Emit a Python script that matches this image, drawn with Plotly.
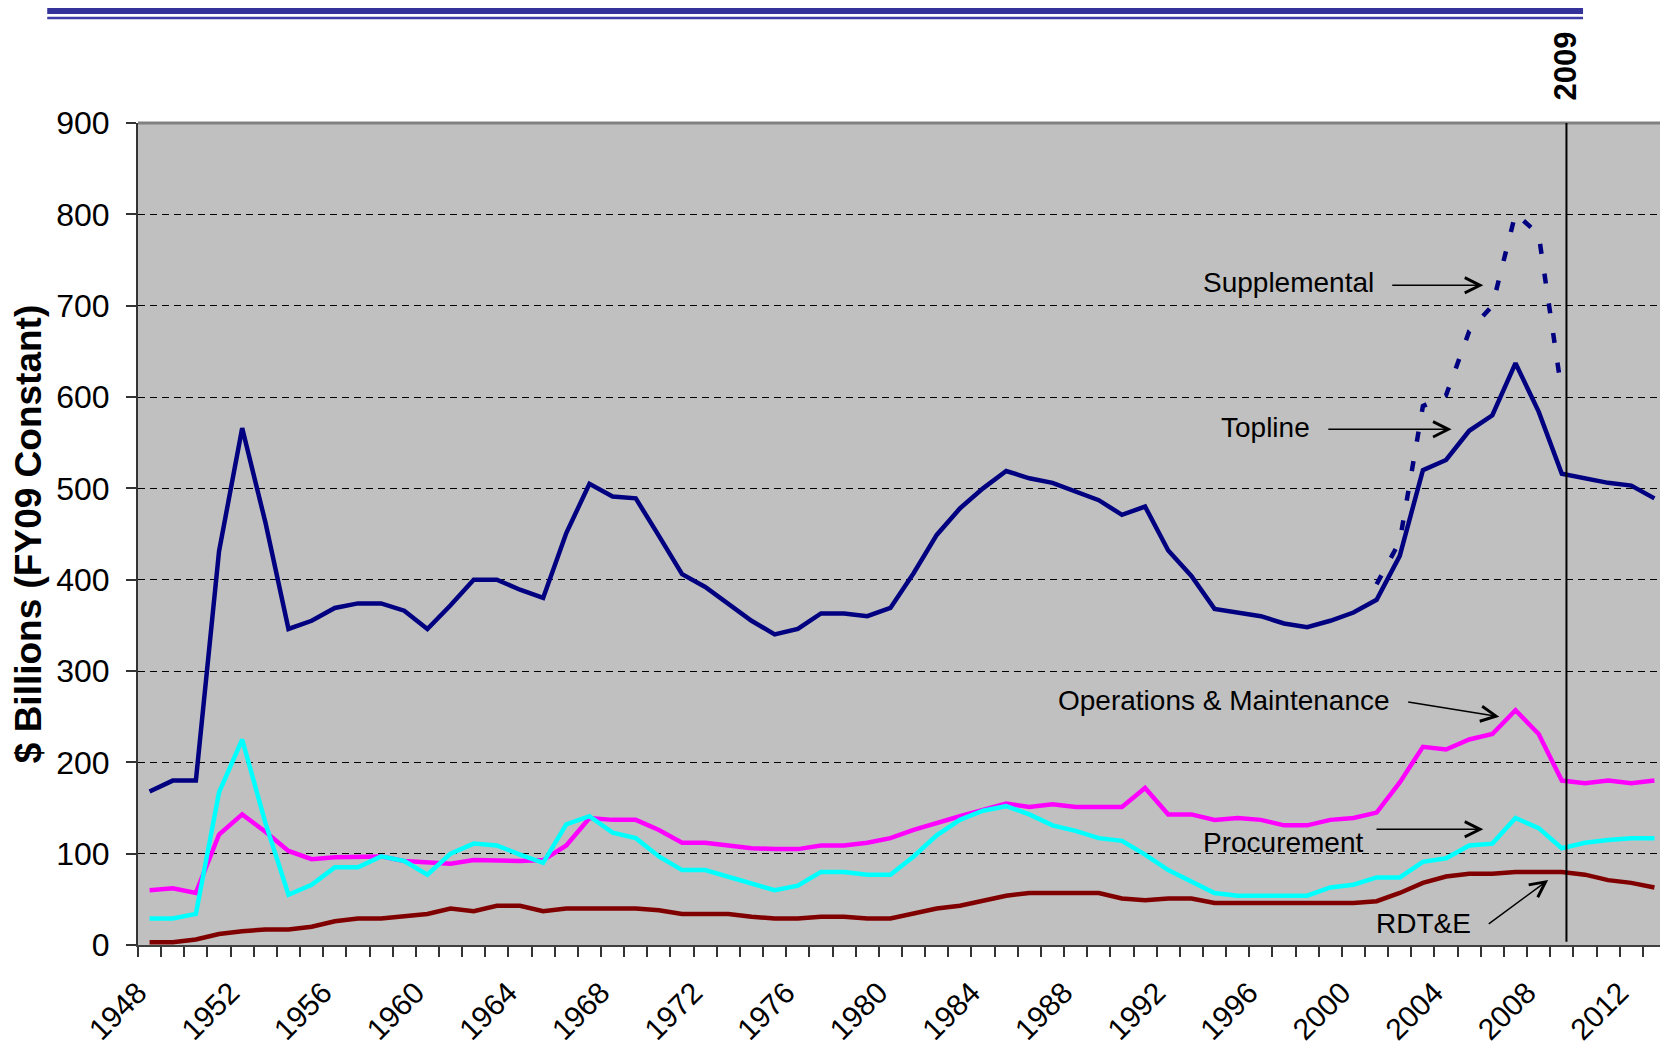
import plotly.graph_objects as go

years = list(range(1948, 2014))

topline = [168, 180, 180, 431, 566, 463, 346, 355, 369, 374, 374, 366, 346, 372, 400, 400,
           389, 380, 451, 505, 491, 489, 448, 406, 392, 374, 355, 340, 346, 363, 363, 360,
           369, 407, 449, 478, 500, 519, 511, 506, 497, 487, 471, 480, 432, 404, 368, 364,
           360, 352, 348, 355, 364, 378, 426, 520, 531, 563, 580, 637, 584, 516, 511, 506,
           503, 489]

supp_years = list(range(2001, 2010))
supplemental = [395, 442, 590, 602, 672, 700, 801, 778, 605]

om = [60, 62, 57, 121, 143, 124, 103, 94, 96, 97, 97, 92, 91, 89, 93, 92,
      92, 93, 109, 139, 137, 137, 126, 112, 112, 109, 106, 105, 105, 109, 109, 112,
      117, 126, 134, 141, 148, 155, 151, 154, 151, 151, 151, 172, 143, 143, 137, 139,
      137, 131, 131, 137, 139, 145, 178, 217, 214, 225, 231, 257, 231, 180, 177, 180,
      177, 180]

procurement = [29, 29, 34, 167, 225, 134, 55, 66, 85, 85, 97, 92, 77, 100, 111, 109,
               99, 90, 132, 141, 123, 117, 97, 82, 82, 75, 67, 60, 65, 80, 80, 77,
               77, 97, 120, 137, 147, 152, 143, 131, 125, 117, 114, 99, 82, 70, 57, 54,
               54, 54, 54, 63, 66, 74, 74, 91, 95, 109, 111, 139, 128, 106, 112, 115,
               117, 117]

rdte = [3, 3, 6, 12, 15, 17, 17, 20, 26, 29, 29, 31, 34, 40, 37, 43,
        43, 37, 40, 40, 40, 40, 38, 34, 34, 34, 31, 29, 29, 31, 31, 29,
        29, 35, 40, 43, 48, 54, 57, 57, 57, 57, 51, 49, 51, 51, 46, 46,
        46, 46, 46, 46, 46, 48, 57, 68, 75, 78, 78, 80, 80, 80, 77, 71,
        68, 63]

label_years = list(range(1948, 2013, 4))
y_ticks = list(range(0, 1000, 100))

FONT = "Liberation Sans, Arial, sans-serif"

fig = go.Figure()
fig.add_trace(go.Scatter(x=years, y=topline, mode="lines", name="Topline",
                         line=dict(color="#000080", width=4.5)))
fig.add_trace(go.Scatter(x=supp_years, y=supplemental, mode="lines", name="Supplemental",
                         line=dict(color="#000080", width=4.5, dash="10px,20px")))
fig.add_trace(go.Scatter(x=years, y=om, mode="lines", name="Operations & Maintenance",
                         line=dict(color="#FF00FF", width=4.5)))
fig.add_trace(go.Scatter(x=years, y=procurement, mode="lines", name="Procurement",
                         line=dict(color="#00FFFF", width=4.5)))
fig.add_trace(go.Scatter(x=years, y=rdte, mode="lines", name="RDT&E",
                         line=dict(color="#800000", width=4.5)))

# x ticks at category boundaries; labels sit at the boundary before their year
bounds = [y - 0.5 for y in years] + [years[-1] + 0.5]
btext = [str(int(b + 0.5)) if int(b + 0.5) in label_years else "" for b in bounds]

fig.update_xaxes(
    range=[1947.5, 2013.5], tickmode="array", tickvals=bounds, ticktext=btext,
    tickangle=-45, ticks="outside", ticklen=10, tickwidth=1.5, tickcolor="#333333",
    showline=True, linecolor="#404040", linewidth=2, showgrid=False, zeroline=False,
    tickfont=dict(family=FONT, size=30, color="black"), ticklabelstandoff=6,
)
fig.update_yaxes(
    range=[0, 900], tickmode="array", tickvals=y_ticks,
    ticks="outside", ticklen=10, tickwidth=1.5, tickcolor="#333333",
    showline=True, linecolor="#333333", linewidth=2,
    showgrid=True, gridcolor="black", gridwidth=1, griddash="7px,5px", zeroline=False,
    tickfont=dict(family=FONT, size=32, color="black"), ticklabelstandoff=10,
    title=dict(text="$ Billions (FY09 Constant)", standoff=14,
               font=dict(family=FONT, size=37, color="black", weight="bold")),
)

shapes = [
    # plot frame top/right
    dict(type="line", xref="paper", yref="paper", x0=0, x1=1, y0=1, y1=1,
         line=dict(color="#808080", width=3)),
    dict(type="line", xref="paper", yref="paper", x0=1, x1=1, y0=0, y1=1,
         line=dict(color="#808080", width=3)),
    # 2009 marker
    dict(type="line", xref="x", yref="paper", x0=2009.2, x1=2009.2, y0=0.004, y1=1,
         line=dict(color="black", width=2)),
    # header bars
    dict(type="rect", xref="paper", yref="paper", x0=-0.0594, x1=0.9457, y0=1.1326, y1=1.1408,
         line=dict(width=0), fillcolor="#333399"),
    dict(type="rect", xref="paper", yref="paper", x0=-0.0594, x1=0.9457, y0=1.1262, y1=1.1293,
         line=dict(width=0), fillcolor="#3d3da8"),
]

ann_font = dict(family=FONT, size=28, color="black")
annotations = [
    dict(x=2009.15, y=1.069, xref="x", yref="paper", text="<b>2009</b>", textangle=-90,
         xanchor="center", yanchor="middle", showarrow=False,
         font=dict(family=FONT, size=31, color="black")),
    dict(x=1997.18, y=725, text="Supplemental", showarrow=False, font=ann_font),
    dict(x=1996.2, y=567, text="Topline", showarrow=False, font=ann_font),
    dict(x=1994.39, y=268, text="Operations & Maintenance", showarrow=False, font=ann_font),
    dict(x=1996.96, y=112, text="Procurement", showarrow=False, font=ann_font),
    dict(x=2003.02, y=24, text="RDT&E", showarrow=False, font=ann_font),
]
arrows = [
    (2005.61, 722.3, 2001.61, 722.3),
    (2004.24, 564.6, 1998.85, 564.6),
    (2006.3, 250.0, 2002.3, 266.4),
    (2005.61, 126.7, 2000.93, 126.7),
    (2008.41, 71.2, 2005.78, 21.9),
]
for hx, hy, tx, ty in arrows:
    annotations.append(dict(x=hx, y=hy, ax=tx, ay=ty, xref="x", yref="y", axref="x", ayref="y",
                            text="", showarrow=True, arrowhead=5, arrowsize=2,
                            arrowwidth=1.5, arrowcolor="black"))

fig.update_layout(
    width=1660, height=1046, autosize=False,
    margin=dict(l=130, r=2, t=115, b=109, autoexpand=False),
    paper_bgcolor="white", plot_bgcolor="#C0C0C0",
    showlegend=False, shapes=shapes, annotations=annotations,
    font=dict(family=FONT, color="black"),
)

fig.write_html("out.html")
